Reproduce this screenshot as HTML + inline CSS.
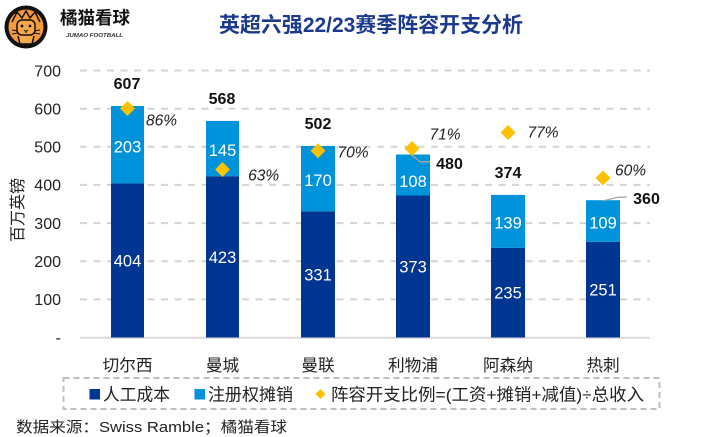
<!DOCTYPE html>
<html><head><meta charset="utf-8"><style>
html,body{margin:0;padding:0;background:#fff;}
svg{display:block;}
text{font-family:"Liberation Sans","Noto Sans CJK SC",sans-serif;}
</style></head><body>
<svg width="710" height="437" viewBox="0 0 710 437" xmlns="http://www.w3.org/2000/svg">
<rect width="710" height="437" fill="#fff"/>
<!-- logo -->
<circle cx="26" cy="27" r="21.5" fill="#111"/>
<circle cx="26" cy="27" r="17.5" fill="#F59A3A"/>
<path d="M12 22 L17 12 L22 18 L26 11 L30 18 L35 12 L40 22" fill="none" stroke="#111" stroke-width="1.5"/>
<rect x="17" y="20" width="18" height="15" rx="5" fill="#F7A84C" stroke="#111" stroke-width="1.5"/>
<circle cx="22" cy="26" r="1.4" fill="#111"/><circle cx="30" cy="26" r="1.4" fill="#111"/>
<path d="M24 30 L26 31.5 L28 30 M26 31.5 L26 33" fill="none" stroke="#111" stroke-width="1"/>
<path d="M12 30 L18 31 M12 34 L18 33 M40 30 L34 31 M40 34 L34 33" stroke="#111" stroke-width="1"/>
<path d="M18 36 L20 44 L32 44 L34 36" fill="#F7A84C" stroke="#111" stroke-width="1.5"/>
<text x="60" y="24" font-size="17.5" font-weight="bold" fill="#111" textLength="70" lengthAdjust="spacingAndGlyphs">橘猫看球</text>
<text x="66" y="37" font-size="5.5" font-weight="bold" font-style="italic" fill="#333" textLength="57" lengthAdjust="spacingAndGlyphs">JUMAO FOOTBALL</text>
<!-- title -->
<text x="219" y="32" font-size="21" font-weight="bold" fill="#1B3A8F" textLength="304" lengthAdjust="spacingAndGlyphs">英超六强22/23赛季阵容开支分析</text>
<!-- grid -->
<g stroke="#D4D4D4" stroke-width="2" stroke-dasharray="7,6.5">
<line x1="80" y1="70.5" x2="650" y2="70.5"/>
<line x1="80" y1="108.7" x2="650" y2="108.7"/>
<line x1="80" y1="146.8" x2="650" y2="146.8"/>
<line x1="80" y1="184.9" x2="650" y2="184.9"/>
<line x1="80" y1="223.1" x2="650" y2="223.1"/>
<line x1="80" y1="261.2" x2="650" y2="261.2"/>
<line x1="80" y1="299.4" x2="650" y2="299.4"/>
</g>
<line x1="80" y1="337.8" x2="650" y2="337.8" stroke="#D9D9D9" stroke-width="2"/>
<!-- y ticks -->
<g font-size="16" fill="#222" text-anchor="end">
<text x="61" y="76.3">700</text>
<text x="61" y="114.5">600</text>
<text x="61" y="152.6">500</text>
<text x="61" y="190.7">400</text>
<text x="61" y="228.9">300</text>
<text x="61" y="267">200</text>
<text x="61" y="305.2">100</text>
<text x="61" y="343">-</text>
</g>
<text transform="translate(23,210) rotate(-90)" font-size="16" fill="#222" text-anchor="middle">百万英镑</text>
<!-- bars -->
<g>
<rect x="111" y="183.4" width="33" height="154.1" fill="#003591"/>
<rect x="111" y="106" width="33" height="77.4" fill="#0092DA"/>
<rect x="206" y="176.2" width="33" height="161.3" fill="#003591"/>
<rect x="206" y="120.9" width="33" height="55.3" fill="#0092DA"/>
<rect x="301" y="211.3" width="34" height="126.2" fill="#003591"/>
<rect x="301" y="146" width="34" height="65.3" fill="#0092DA"/>
<rect x="396" y="195.5" width="34" height="142" fill="#003591"/>
<rect x="396" y="154.5" width="34" height="41" fill="#0092DA"/>
<rect x="491" y="247.9" width="34" height="89.6" fill="#003591"/>
<rect x="491" y="194.9" width="34" height="53" fill="#0092DA"/>
<rect x="586" y="241.8" width="34" height="95.7" fill="#003591"/>
<rect x="586" y="200.2" width="34" height="41.6" fill="#0092DA"/>
</g>
<!-- segment labels -->
<g font-size="16.5" fill="#fff" text-anchor="middle">
<text x="127.5" y="266.5">404</text>
<text x="127.5" y="152.5">203</text>
<text x="222.5" y="263">423</text>
<text x="222.5" y="156">145</text>
<text x="318" y="280.5">331</text>
<text x="318" y="186">170</text>
<text x="413" y="272.5">373</text>
<text x="413" y="187">108</text>
<text x="508" y="298.7">235</text>
<text x="508" y="228.5">139</text>
<text x="603" y="295.6">251</text>
<text x="603" y="228.5">109</text>
</g>
<!-- leader lines -->
<path d="M411.7 155 L420 161.7 L430 161.7" fill="none" stroke="#A6A6A6" stroke-width="1.3"/>
<path d="M603.3 200.7 L618 197.3 L627 197" fill="none" stroke="#A6A6A6" stroke-width="1.3"/>
<!-- diamonds -->
<g fill="#FFC000">
<path d="M127.5 101 L135 108.5 L127.5 116 L120 108.5Z"/>
<path d="M222.5 162 L230 169.5 L222.5 177 L215 169.5Z"/>
<path d="M318 143.3 L325.5 150.8 L318 158.3 L310.5 150.8Z"/>
<path d="M412 141 L419.5 148.5 L412 156 L404.5 148.5Z"/>
<path d="M508 125 L515.5 132.5 L508 140 L500.5 132.5Z"/>
<path d="M603 170.5 L610.5 178 L603 185.5 L595.5 178Z"/>
</g>
<!-- totals -->
<g font-size="16" font-weight="bold" fill="#111" text-anchor="middle">
<text x="127" y="88.8">607</text>
<text x="222" y="104">568</text>
<text x="318" y="129">502</text>
<text x="449.5" y="168.8">480</text>
<text x="508" y="177.8">374</text>
<text x="646.5" y="203.8">360</text>
</g>
<!-- percents -->
<g font-size="15.5" font-style="italic" fill="#222" text-anchor="middle">
<text x="161.5" y="125.6">86%</text>
<text x="263.7" y="180.6">63%</text>
<text x="353" y="157.3">70%</text>
<text x="445" y="139.6">71%</text>
<text x="543" y="137.6">77%</text>
<text x="630.5" y="175.6">60%</text>
</g>
<!-- categories -->
<g font-size="16.7" fill="#222" text-anchor="middle">
<text x="127.5" y="371">切尔西</text>
<text x="222.5" y="371">曼城</text>
<text x="318" y="371">曼联</text>
<text x="413" y="371">利物浦</text>
<text x="508" y="371">阿森纳</text>
<text x="603" y="371">热刺</text>
</g>
<!-- legend -->
<rect x="63.5" y="378" width="596" height="31" fill="none" stroke="#BFBFBF" stroke-width="2" stroke-dasharray="6,4"/>
<rect x="89.5" y="389" width="10.5" height="10.5" fill="#003591"/>
<text x="103" y="400.5" font-size="17" fill="#222" textLength="67" lengthAdjust="spacingAndGlyphs">人工成本</text>
<rect x="194.5" y="389" width="10.5" height="10.5" fill="#0092DA"/>
<text x="208" y="400.5" font-size="17" fill="#222" textLength="85" lengthAdjust="spacingAndGlyphs">注册权摊销</text>
<path d="M320.5 389 L325.5 394 L320.5 399 L315.5 394Z" fill="#FFC000"/>
<text x="331" y="400.5" font-size="17" fill="#222" textLength="313" lengthAdjust="spacingAndGlyphs">阵容开支比例=(工资+摊销+减值)÷总收入</text>
<!-- source -->
<text x="16" y="432" font-size="15" fill="#222" textLength="271" lengthAdjust="spacingAndGlyphs">数据来源：Swiss Ramble；橘猫看球</text>
</svg>
</body></html>
